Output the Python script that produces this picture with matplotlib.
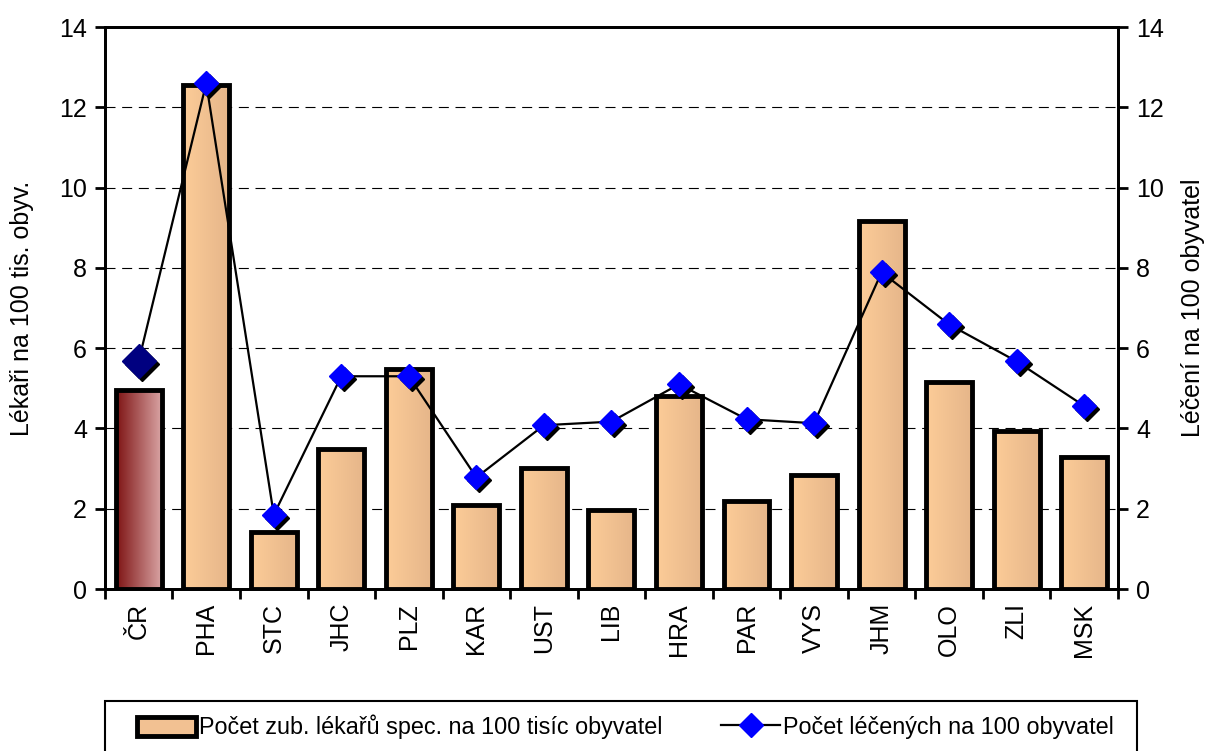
import numpy as np
import matplotlib
matplotlib.use("Agg")
import matplotlib.pyplot as plt
from matplotlib.colors import LinearSegmentedColormap
from matplotlib.transforms import offset_copy
from matplotlib.lines import Line2D
from matplotlib.patches import Patch, Rectangle

plt.rcParams['font.family'] = ['Liberation Sans Narrow', 'Liberation Sans', 'DejaVu Sans']

# data
regions = ['ČR', 'PHA', 'STC', 'JHC', 'PLZ', 'KAR', 'UST', 'LIB',
           'HRA', 'PAR', 'VYS', 'JHM', 'OLO', 'ZLI', 'MSK']
dentists = [4.96, 12.56, 1.43, 3.5, 5.47, 2.09, 3.01, 1.96,
            4.8, 2.19, 2.84, 9.18, 5.16, 3.93, 3.28]
treated = [5.68, 12.6, 1.85, 5.3, 5.3, 2.78, 4.08, 4.17,
           5.1, 4.23, 4.13, 7.89, 6.59, 5.67, 4.56]

bar_label = 'Počet zub. lékařů spec. na 100 tisíc obyvatel'
line_label = 'Počet léčených na 100 obyvatel'

fig = plt.figure(figsize=(12.09, 7.51), dpi=100)
ax = fig.add_axes([0.0868, 0.2157, 0.8379, 0.7483])
x = np.arange(len(regions))

# bars with a horizontal gradient fill
bars = ax.bar(x, dentists, width=0.68, facecolor='none', edgecolor='black',
              linewidth=3.5, zorder=3)
grad = np.linspace(0, 1, 64).reshape(1, -1)
cm_peach = LinearSegmentedColormap.from_list('peach', ['#FCCC98', '#E6B68A'])
cm_red = LinearSegmentedColormap.from_list('red', ['#7E1414', '#D9A3A3'])
for i, b in enumerate(bars):
    cmap = cm_red if i == 0 else cm_peach
    im = ax.imshow(grad, cmap=cmap, aspect='auto', interpolation='bilinear',
                   extent=(b.get_x(), b.get_x() + b.get_width(), 0, b.get_height()),
                   zorder=2)
    im.set_clip_path(b)

ax.set_xlim(-0.5, len(regions) - 0.5)
ax.set_ylim(0, 14)
ax.set_yticks(np.arange(0, 15, 2))
ax.yaxis.grid(True, color='black', linestyle=(0, (9, 6)), linewidth=0.8)
ax.set_axisbelow(True)

ax.set_xticks(x)
ax.set_xticklabels(regions, rotation=90, fontsize=18)
ax.set_xticks(np.arange(-0.5, len(regions), 1), minor=True)
ax.tick_params(axis='x', which='major', length=0, pad=10)
ax.tick_params(axis='x', which='minor', length=7, width=2, direction='out')
ax.tick_params(axis='y', length=7, width=2, labelsize=18, pad=6)
ax.set_ylabel('Lékaři na 100 tis. obyv.', fontsize=18, labelpad=18)
for s in ax.spines.values():
    s.set_linewidth(2)

# line on the secondary axis
ax2 = ax.twinx()
ax2.set_ylim(0, 14)
ax2.set_yticks(np.arange(0, 15, 2))
ax2.tick_params(axis='y', length=7, width=2, labelsize=18, pad=6)
ax2.set_ylabel('Léčení na 100 obyvatel', fontsize=18, labelpad=12)
for s in ax2.spines.values():
    s.set_linewidth(2)

ax2.plot(x, treated, color='black', linewidth=1.6, zorder=2)
shadow = offset_copy(ax2.transData, fig=fig, x=3, y=-3, units='dots')
ax2.plot(x[1:], treated[1:], 'D', color='black', markersize=12,
         transform=shadow, zorder=3)
ax2.plot(x[1:], treated[1:], 'D', color='#0000FF', markersize=12, zorder=4)
ax2.plot(x[:1], treated[:1], 'D', color='black', markersize=17,
         transform=shadow, zorder=3)
ax2.plot(x[:1], treated[:1], 'D', color='#000080', markersize=17, zorder=4)

# legend box (its bottom runs off the figure as in the original)
fig.patches.append(Rectangle((0.0868, -0.05), 0.8536, 0.1166,
                             transform=fig.transFigure, facecolor='white',
                             edgecolor='black', linewidth=1.5))
handles = [Patch(facecolor='#F2C192', edgecolor='black', linewidth=3.5),
           Line2D([], [], color='black', linewidth=1.6, marker='D',
                  markersize=12, markerfacecolor='#0000FF', markeredgecolor='#0000FF')]
leg = fig.legend(handles, [bar_label, line_label], loc='center left',
                 bbox_to_anchor=(0.113, 0.032), ncol=2, fontsize=16.8,
                 frameon=False, handlelength=2.55, handleheight=0.9,
                 handletextpad=0.12, columnspacing=2.5, borderaxespad=0,
                 borderpad=0, numpoints=1)

fig.savefig('out.png', dpi=100)
